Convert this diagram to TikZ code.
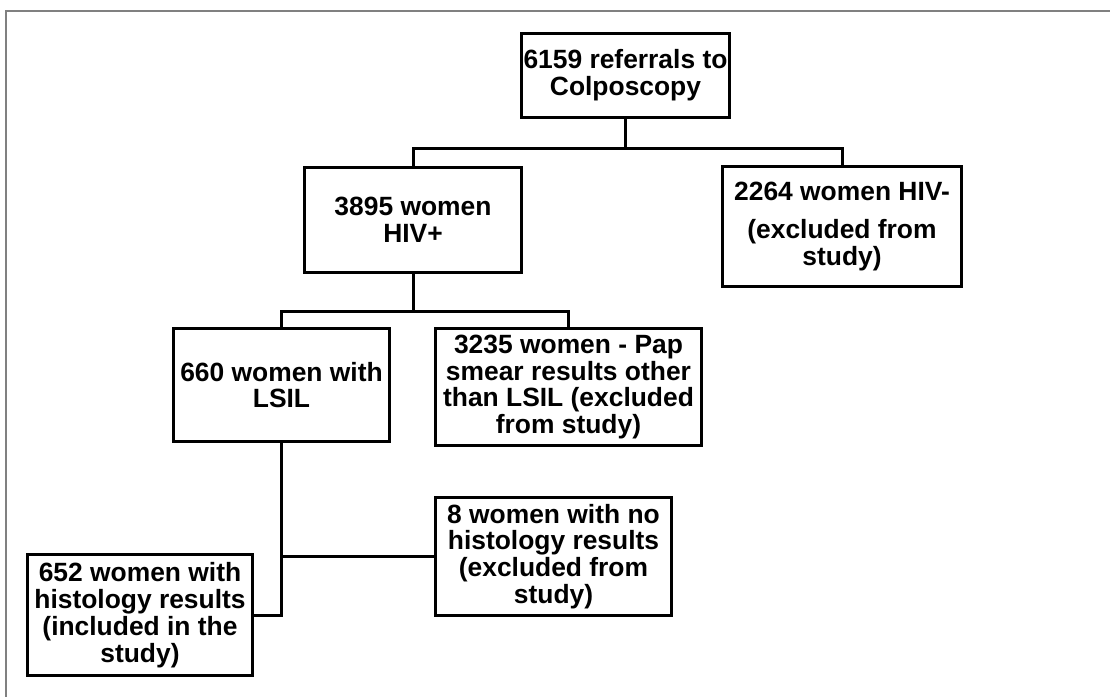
\documentclass[tikz,border=0pt]{standalone}
\usepackage{fontspec}
\setmainfont{Liberation Sans}
\def\px{0.5pt}
\begin{document}
\begin{tikzpicture}[x=\px, y=-\px]
	\tikzstyle{frame line}=[draw=black!50, line width=1pt]
	\tikzstyle{box}=[draw=black, line width=1.5pt, align=center, inner sep=0pt, font=\fontsize{13.2}{13.4}\selectfont\bfseries]
	\tikzstyle{link}=[draw=black, line width=1.5pt]

	\useasboundingbox (0,0) rectangle (1110,697);

	% Outer frame, only its top and left edges show
	\draw[frame line] (6,697) |- (1110,11);

	% Draw the boxes, row by row
	\node[box, minimum width=208*\px, minimum height=84*\px] (refer) at (625.5,75.5) {6159 referrals to\\Colposcopy};

	\node[box, minimum width=217*\px, minimum height=105*\px] (hivpos) at (413,220) {3895 women\\HIV+};
	\node[box, minimum width=239*\px, minimum height=120*\px] (hivneg) at (842,226.5) {2264 women HIV-\\[5.5pt](excluded from\\study)};

	\node[box, minimum width=216*\px, minimum height=113*\px] (lsil) at (281.5,385) {660 women with\\LSIL};
	\node[box, minimum width=266*\px, minimum height=117*\px] (other) at (568.5,387) {3235 women - Pap\\smear results other\\than LSIL (excluded\\from study)};

	\node[box, minimum width=236*\px, minimum height=118*\px] (nohist) at (553.5,556.5) {8 women with no\\histology results\\(excluded from\\study)};
	\node[box, minimum width=225*\px, minimum height=121*\px] (hist) at (140,615) {652 women with\\histology results\\(included in the\\study)};

	% Connect the referrals with the two HIV groups
	\draw[link] (refer.south) -- ++(0,29) coordinate (split1) -| (hivpos.north);
	\draw[link] (split1) -| (hivneg.north);

	% Connect the HIV+ group with the Pap smear groups
	\draw[link] (hivpos.south) -- ++(0,37) coordinate (split2) -| (lsil.north);
	\draw[link] (split2) -| (other.north);

	% Connect the LSIL group with the histology groups
	\draw[link] (lsil.south) |- (hist.east);
	\draw[link] (lsil.south |- nohist.west) -- (nohist.west);
\end{tikzpicture}
\end{document}
